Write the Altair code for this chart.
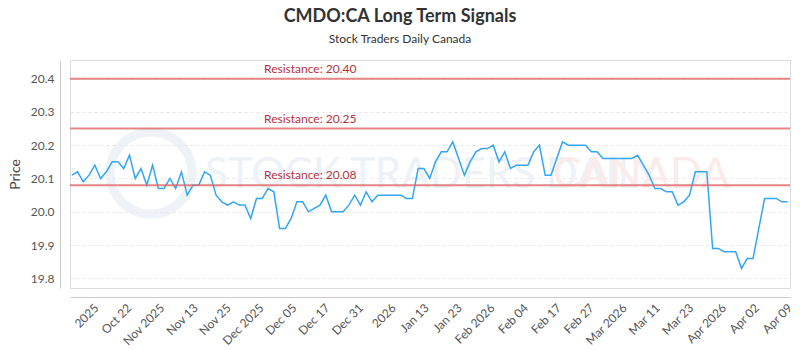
import altair as alt
import pandas as pd

# ---- data ----
prices = [
    20.11, 20.12, 20.09, 20.11, 20.14, 20.10, 20.12, 20.15, 20.15, 20.13, 20.17, 20.10, 20.13, 20.08, 20.14, 20.07,
    20.07, 20.10, 20.07, 20.12, 20.05, 20.08, 20.08, 20.12, 20.11, 20.05, 20.03, 20.02, 20.03, 20.02, 20.02,
    19.98, 20.04, 20.04, 20.07, 20.06, 19.95, 19.95, 19.98, 20.03, 20.03, 20.00, 20.01, 20.02, 20.05, 20.00, 20.00,
    20.00, 20.02, 20.05, 20.02, 20.06, 20.03, 20.05, 20.05, 20.05, 20.05, 20.05, 20.04, 20.04, 20.13, 20.13,
    20.10, 20.15, 20.18, 20.18, 20.21, 20.16, 20.11, 20.15, 20.18, 20.19, 20.19, 20.20, 20.15, 20.18, 20.13, 20.14,
    20.14, 20.14, 20.18, 20.20, 20.11, 20.11, 20.16, 20.21, 20.20, 20.20, 20.20, 20.20, 20.18, 20.18, 20.16, 20.16,
    20.16, 20.16, 20.16, 20.16, 20.17, 20.14, 20.11, 20.07, 20.07, 20.06, 20.06, 20.02, 20.03, 20.05, 20.12, 20.12,
    20.12, 19.89, 19.89, 19.88, 19.88, 19.88, 19.83, 19.86, 19.86, 19.95, 20.04, 20.04, 20.04, 20.03, 20.03,
]
tick_labels = ["2025", "Oct 22", "Nov 2025", "Nov 13", "Nov 25", "Dec 2025", "Dec 05", "Dec 17", "Dec 31",
               "2026", "Jan 13", "Jan 23", "Feb 2026", "Feb 04", "Feb 17", "Feb 27", "Mar 2026", "Mar 11",
               "Mar 23", "Apr 2026", "Apr 02", "Apr 09"]
tick_positions = [3.6, 9.3, 15.0, 20.8, 26.5, 32.2, 37.9, 43.6, 49.4, 55.1, 60.8, 66.5, 72.2, 78.0, 83.7,
                  89.4, 95.1, 100.8, 106.6, 112.3, 118.0, 123.7]
y_ticks = [19.8, 19.9, 20.0, 20.1, 20.2, 20.3, 20.4]
resistance_levels = [20.40, 20.25, 20.08]
resistance_text = ["Resistance: 20.40", "Resistance: 20.25", "Resistance: 20.08"]

df = pd.DataFrame({"idx": list(range(len(prices))), "price": prices})
res_df = pd.DataFrame({"level": resistance_levels, "label": resistance_text})

FONT = "Lato"
xdom = [-0.3, 124.4]
ydom = [19.771, 20.456]
yscale = alt.Scale(domain=ydom, nice=False, zero=False)

label_expr = "[" + ",".join("'%s'" % t for t in tick_labels) + "][indexof([" + \
    ",".join(str(p) for p in tick_positions) + "], datum.value)]"

x_enc = alt.X("idx:Q", scale=alt.Scale(domain=xdom, nice=False, zero=False),
              axis=alt.Axis(values=tick_positions, labelExpr=label_expr, labelAngle=315,
                            title=None, grid=False, ticks=False, offset=9, domainColor="#cccccc",
                            labelPadding=5, labelFontSize=12, labelColor="#555555", labelFont=FONT,
                            labelOverlap=False, labelBound=False, labelFlush=False))
y_axis = alt.Axis(values=y_ticks, format=".1f", labelOverlap=False,
                  title="Price", titleFont=FONT, titleFontSize=14, titleFontWeight="normal",
                  titleColor="#444444", titlePadding=8,
                  ticks=False, offset=10, domainColor="#cccccc", labelPadding=6,
                  labelFontSize=12, labelColor="#555555", labelFont=FONT,
                  grid=True, gridDash=[3, 3], gridColor="#e8e8e8")

# watermark
wm_ring = alt.Chart(pd.DataFrame({"a": [0]})).mark_point(
    shape="circle", size=6724, stroke="#e6ebf2", strokeWidth=9, filled=False, opacity=0.6
).encode(x=alt.value(81), y=alt.value(113))
wm_text1 = alt.Chart(pd.DataFrame({"t": ["STOCK TRADERS DAILY"]})).mark_text(
    font=FONT, fontSize=42, align="left", baseline="middle", color="#eef1f6", fontWeight="normal"
).encode(x=alt.value(135), y=alt.value(115), text="t:N")
wm_text2 = alt.Chart(pd.DataFrame({"t": ["CANADA"]})).mark_text(
    font=FONT, fontSize=42, align="left", baseline="middle", color="#fcebeb", fontWeight="normal"
).encode(x=alt.value(483), y=alt.value(115), text="t:N")

line = alt.Chart(df).mark_line(color="#33a6f5", strokeWidth=1.5).encode(
    x=x_enc, y=alt.Y("price:Q", scale=yscale, axis=y_axis))

rules = alt.Chart(res_df).mark_rule(color="#e06666", strokeWidth=2, opacity=0.8).encode(
    y=alt.Y("level:Q", scale=yscale, axis=y_axis))
rule_labels = alt.Chart(res_df).mark_text(
    align="left", baseline="bottom", dy=-3, font=FONT, fontSize=12, color="#b5323c"
).encode(x=alt.value(194), y=alt.Y("level:Q", scale=yscale, axis=y_axis), text="label:N")

chart = alt.layer(wm_ring, wm_text1, wm_text2, line, rules, rule_labels).properties(
    width=720, height=228,
    title=alt.TitleParams(text="CMDO:CA Long Term Signals", subtitle="Stock Traders Daily Canada",
                          font=FONT, fontSize=18, fontWeight="bold", color="#333333",
                          subtitleFont=FONT, subtitleFontSize=12, subtitleColor="#333333",
                          subtitlePadding=8, anchor="middle", dx=-30, offset=15),
    autosize=alt.AutoSizeParams(type="none"),
    padding={"left": 70, "top": 60, "right": 10, "bottom": 62},
).configure_view(stroke="#888888", strokeWidth=1.5).configure(background="white")

chart.save("out.html", embed_options={"renderer": "svg", "actions": False})
